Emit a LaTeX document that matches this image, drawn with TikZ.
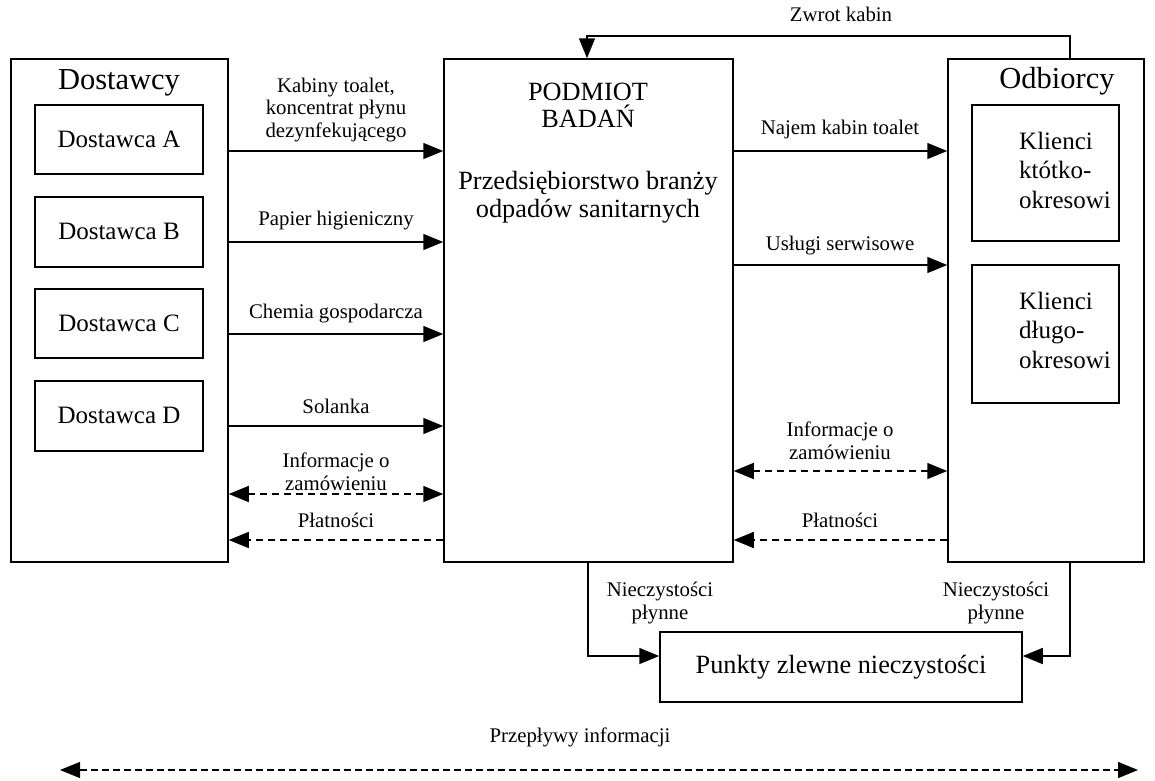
\documentclass[tikz,border=0pt]{standalone}
\usepackage{fontspec}
\setmainfont{Liberation Serif}
\usetikzlibrary{arrows.meta}
\begin{document}
\begin{tikzpicture}[x=1pt,y=-1pt,
  box/.style={draw, line width=1.5pt, inner sep=0pt},
  head/.style={font=\fontsize{30.5}{34}\selectfont, inner sep=0pt, anchor=base},
  big/.style={font=\fontsize{25}{28}\selectfont, align=center, inner sep=0pt},
  bigger/.style={font=\fontsize{26.3}{27.5}\selectfont, align=center, inner sep=0pt},
  lbl/.style={font=\fontsize{20.8}{22.5}\selectfont, align=center, inner sep=0pt},
  tip/.tip={Triangle[length=20pt,width=16pt]},
  flow/.style={line width=1.5pt, -tip},
  dflow/.style={line width=1.5pt, dash pattern=on 7pt off 5pt, -tip},
  dboth/.style={line width=1.5pt, dash pattern=on 7pt off 5pt, tip-tip},
]
\useasboundingbox (0,0) rectangle (1155,780);

% boxes
\node[box, minimum width=217pt, minimum height=503pt] (S) at (119.5,310.5) {};
\node[box, minimum width=168pt, minimum height=69pt] (SA) at (119,139.5) {};
\node[box, minimum width=168pt, minimum height=70pt] (SB) at (119,232) {};
\node[box, minimum width=168pt, minimum height=69pt] (SC) at (119,323.5) {};
\node[box, minimum width=168pt, minimum height=70pt] (SD) at (119,416) {};
\node[box, minimum width=289pt, minimum height=503pt] (P) at (588.5,310.5) {};
\node[box, minimum width=196pt, minimum height=503pt] (O) at (1046,310.5) {};
\node[box, minimum width=147pt, minimum height=136pt] (OK) at (1045.5,173) {};
\node[box, minimum width=147pt, minimum height=138pt] (OD) at (1045.5,334) {};
\node[box, minimum width=362pt, minimum height=70pt] (Z) at (841,667) {};

% box texts
\node[head] (tS) at (119,89) {Dostawcy};
\node[head] (tO) at (1057,88) {Odbiorcy};
\node[big, anchor=base] (tSA) at (119,147) {Dostawca A};
\node[big, anchor=base] (tSB) at (119,239.5) {Dostawca B};
\node[big, anchor=base] (tSC) at (119,331) {Dostawca C};
\node[big, anchor=base] (tSD) at (119,423.5) {Dostawca D};
\node[bigger] (tP1) at (588,105.5) {PODMIOT\\BADAŃ};
\node[bigger] (tP2) at (588,197) {Przedsiębiorstwo branży\\odpadów sanitarnych};
\node[big, font=\fontsize{25}{29.5}\selectfont, align=left, anchor=west] (tOK) at (1019,170) {Klienci\\któtko-\\okresowi};
\node[big, font=\fontsize{25}{29.5}\selectfont, align=left, anchor=west] (tOD) at (1019,330) {Klienci\\długo-\\okresowi};
\node[bigger] (tZ) at (841,667) {Punkty zlewne nieczystości};

% left flows
\draw[flow] (S.east |- 0,151) -- (P.west |- 0,151);
\draw[flow] (S.east |- 0,242) -- (P.west |- 0,242);
\draw[flow] (S.east |- 0,334) -- (P.west |- 0,334);
\draw[flow] (S.east |- 0,426) -- (P.west |- 0,426);
\draw[dboth] (S.east |- 0,494) -- (P.west |- 0,494);
\draw[dflow] (P.west |- 0,540) -- (S.east |- 0,540);

\node[lbl] (l1) at (336,110) {Kabiny toalet,\\koncentrat płynu\\dezynfekującego};
\node[lbl] (l2) at (336,221) {Papier higieniczny};
\node[lbl] (l3) at (336,314) {Chemia gospodarcza};
\node[lbl] (l4) at (336,406) {Solanka};
\node[lbl] (l5) at (336,472) {Informacje o\\zamówieniu};
\node[lbl] (l6) at (336,520) {Płatności};

% right flows
\draw[flow] (P.east |- 0,151) -- (O.west |- 0,151);
\draw[flow] (P.east |- 0,265) -- (O.west |- 0,265);
\draw[dboth] (P.east |- 0,471) -- (O.west |- 0,471);
\draw[dflow] (O.west |- 0,540) -- (P.east |- 0,540);

\node[lbl] (r1) at (840,129) {Najem kabin toalet};
\node[lbl] (r2) at (840,246) {Usługi serwisowe};
\node[lbl] (r3) at (840,441) {Informacje o\\zamówieniu};
\node[lbl] (r4) at (840,520) {Płatności};

% return of cabins
\coordinate (zr1) at (1070,36);
\coordinate (zr2) at (587,36);
\draw[flow] (O.north -| zr1) -- (zr1) -- (zr2) -- (P.north -| zr2);
\node[lbl] (zr) at (841,14) {Zwrot kabin};

% liquid waste
\coordinate (n1) at (588,656);
\coordinate (n2) at (1070,656);
\draw[flow] (P.south -| n1) -- (n1) -- (Z.west |- n1);
\draw[flow] (O.south -| n2) -- (n2) -- (Z.east |- n2);
\node[lbl] (nl) at (660,603) {Nieczystości\\płynne};
\node[lbl] (nr) at (996,603) {Nieczystości\\płynne};

% information flows
\coordinate (i1) at (60,770);
\coordinate (i2) at (1138,770);
\draw[line width=1.3pt, dash pattern=on 7pt off 4pt, tip-tip] (i1) -- (i2);
\node[lbl] (il) at (580,737) {Przepływy informacji};
\end{tikzpicture}
\end{document}
